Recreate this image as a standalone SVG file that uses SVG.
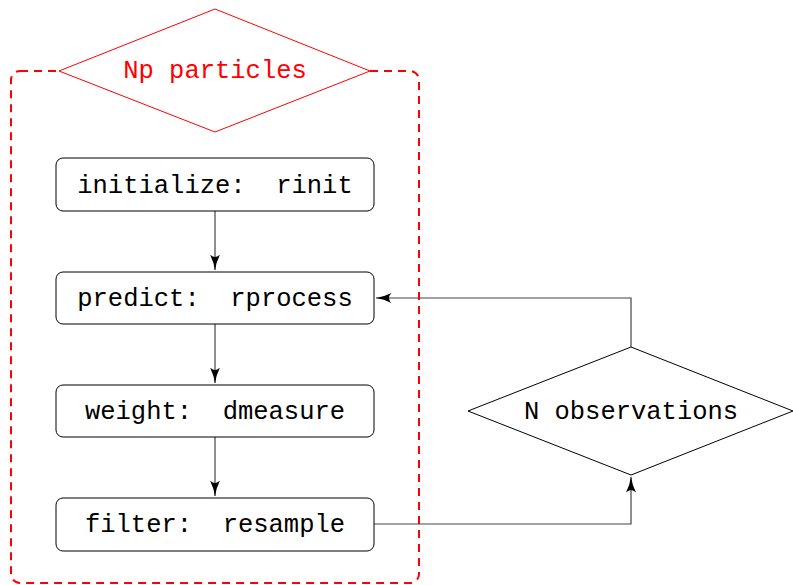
<svg xmlns="http://www.w3.org/2000/svg" width="793" height="585" viewBox="0 0 793 585">
<style>
.box{fill:#fff;stroke:#000;stroke-width:1}
.lbl{font-family:"Liberation Mono","DejaVu Sans Mono",monospace;font-size:25.5px;text-anchor:middle;fill:#000}
.conn{fill:none;stroke:#444;stroke-width:1.2}
</style>
<defs>
<marker id="ah" viewBox="0 0 16 10" refX="15.5" refY="5" markerWidth="16" markerHeight="10" markerUnits="userSpaceOnUse" orient="auto">
<path d="M0,0 Q8,4 16,5 Q8,6 0,10 Q5,5 0,0 Z" fill="#000"/>
</marker>
</defs>
<rect width="793" height="585" fill="#fff"/>
<g id="connectors">
<line class="conn" x1="215" y1="211" x2="215" y2="270" marker-end="url(#ah)"/>
<line class="conn" x1="215" y1="324" x2="215" y2="383" marker-end="url(#ah)"/>
<line class="conn" x1="215" y1="437" x2="215" y2="496" marker-end="url(#ah)"/>
<polyline class="conn" points="631,347 631,298 376,298" marker-end="url(#ah)"/>
<polyline class="conn" points="374,524 631,524 631,477" marker-end="url(#ah)"/>
</g>
<g id="particles-frame">
<rect x="11" y="71" width="408" height="512" rx="9" fill="none" stroke="#f00" stroke-width="2" stroke-dasharray="8,6"/>
</g>
<g id="np-particles">
<polygon points="215,9 370,71 215,132 59,71" fill="#fff" stroke="#f00" stroke-width="1"/>
<text class="lbl" x="215" y="78" style="fill:#f00">Np particles</text>
</g>
<g id="initialize">
<rect class="box" x="56" y="158" width="318" height="53" rx="7"/>
<text class="lbl" x="215" y="193" xml:space="preserve">initialize:  rinit</text>
</g>
<g id="predict">
<rect class="box" x="56" y="272" width="318" height="52" rx="7"/>
<text class="lbl" x="215" y="306" xml:space="preserve">predict:  rprocess</text>
</g>
<g id="weight">
<rect class="box" x="56" y="385" width="318" height="52" rx="7"/>
<text class="lbl" x="215" y="419" xml:space="preserve">weight:  dmeasure</text>
</g>
<g id="filter">
<rect class="box" x="56" y="498" width="318" height="53" rx="7"/>
<text class="lbl" x="215" y="532" xml:space="preserve">filter:  resample</text>
</g>
<g id="n-observations">
<polygon points="631,347 793,411 631,475 468,411" fill="#fff" stroke="#000" stroke-width="1"/>
<text class="lbl" x="631" y="419">N observations</text>
</g>
</svg>
